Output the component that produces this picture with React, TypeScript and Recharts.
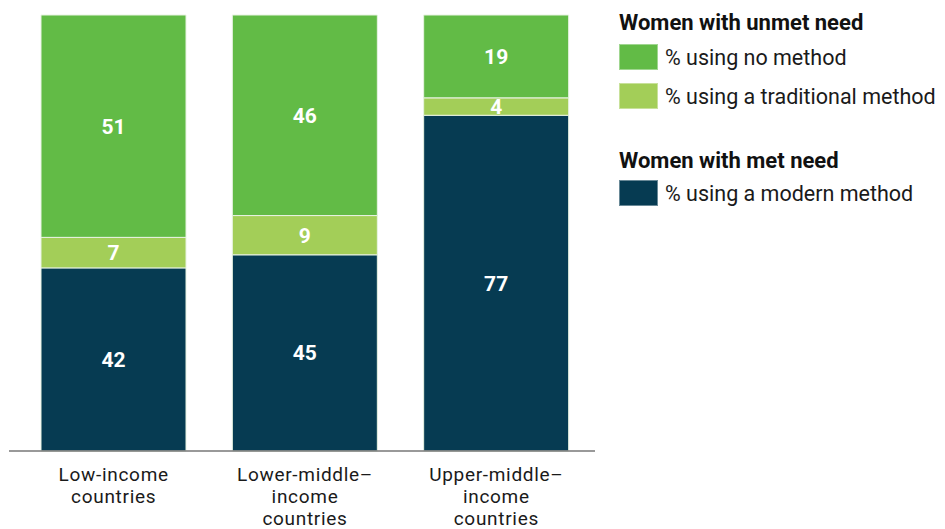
import React from 'react';
import { BarChart, Bar, XAxis, YAxis, LabelList } from 'recharts';

const categories = ['Low-income countries', 'Lower-middle–income countries', 'Upper-middle–income countries'];
const tickLines = [['Low-income', 'countries'], ['Lower-middle–', 'income', 'countries'], ['Upper-middle–', 'income', 'countries']];
const modern = [42, 45, 77];
const traditional = [7, 9, 4];
const noMethod = [51, 46, 19];

const data = categories.map((c, i) => ({
  name: c,
  modern: modern[i],
  traditional: traditional[i],
  noMethod: noMethod[i],
}));

const FONT = 'Roboto, "Noto Sans", sans-serif';
const NAVY = '#063b52';
const GREEN = '#62bb46';
const LIGHT = '#a3ce58';

const MultiTick = (props: any) => {
  const { x, y, index } = props;
  const lines = tickLines[index] || [];
  return (
    <text x={x} y={y + 22} textAnchor="middle" fill="#1a1a1a" fontSize={19} letterSpacing={0.7} fontFamily={FONT}>
      {lines.map((l, i) => (
        <tspan key={i} x={x} dy={i === 0 ? 0 : 22}>{l}</tspan>
      ))}
    </text>
  );
};

const Swatch = ({ color, label, top }: { color: string; label: string; top: number }) => (
  <div style={{ position: 'absolute', left: 0, top, display: 'flex', alignItems: 'center' }}>
    <div style={{ width: 39, height: 26, background: color, border: '1px solid rgba(255,255,255,0.4)', boxSizing: 'border-box' }} />
    <span style={{ marginLeft: 7, fontSize: 21.5, color: '#1a1a1a', whiteSpace: 'nowrap' }}>{label}</span>
  </div>
);

const App: React.FC = () => {
  return (
    <div style={{ position: 'relative', width: 937, height: 521, fontFamily: FONT, background: '#fff' }}>
      <style>{'html, body { overflow: hidden; }'}</style>
      <BarChart
        width={600}
        height={521}
        data={data}
        margin={{ top: 7, right: 13, bottom: 0, left: 1 }}
        barSize={145}
      >
        <XAxis
          dataKey="name"
          tickLine={false}
          axisLine={{ stroke: '#777', strokeWidth: 1.5 }}
          tick={<MultiTick />}
          height={78}
          interval={0}
          padding={{ left: 9, right: 3 }}
        />
        <YAxis hide domain={[0, 100]} />
        <Bar dataKey="modern" stackId="a" fill={NAVY} stroke="#e8f3e2" strokeWidth={1} isAnimationActive={false}>
          <LabelList dataKey="modern" position="center" fill="#fff" fontSize={21} fontWeight={700} fontFamily={FONT} />
        </Bar>
        <Bar dataKey="traditional" stackId="a" fill={LIGHT} stroke="#e8f3e2" strokeWidth={1} isAnimationActive={false}>
          <LabelList dataKey="traditional" position="center" fill="#fff" fontSize={21} fontWeight={700} fontFamily={FONT} />
        </Bar>
        <Bar dataKey="noMethod" stackId="a" fill={GREEN} stroke="#e8f3e2" strokeWidth={1} isAnimationActive={false}>
          <LabelList dataKey="noMethod" position="center" fill="#fff" fontSize={21} fontWeight={700} fontFamily={FONT} />
        </Bar>
      </BarChart>
      <div style={{ position: 'absolute', left: 611, top: 0, width: 326, height: 220 }}>
        <div style={{ position: 'absolute', left: 0, top: 2, fontSize: 22, fontWeight: 700, color: '#111', whiteSpace: 'nowrap' }}>
          Women with unmet need
        </div>
        <Swatch color={GREEN} label="% using no method" top={36} />
        <Swatch color={LIGHT} label="% using a traditional method" top={75} />
        <div style={{ position: 'absolute', left: 0, top: 140, fontSize: 22, fontWeight: 700, color: '#111', whiteSpace: 'nowrap' }}>
          Women with met need
        </div>
        <Swatch color={NAVY} label="% using a modern method" top={172} />
      </div>
    </div>
  );
};

export default App;
